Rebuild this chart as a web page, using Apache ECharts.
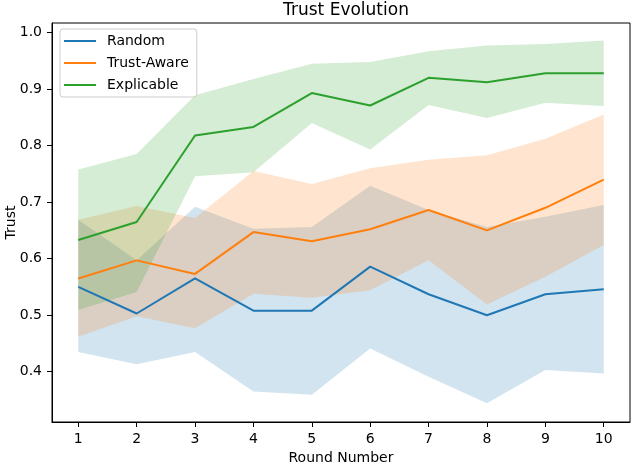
<!DOCTYPE html>
<html>
<head>
<meta charset="utf-8">
<script src="https://cdn.jsdelivr.net/npm/echarts@6/dist/echarts.min.js"></script>
<style>
  html, body { margin: 0; padding: 0; background: #fff; }
  #chart { width: 632px; height: 464px; }
</style>
</head>
<body>
<div id="chart"></div>
<script>
// rounds on the x axis
var rounds = [1, 2, 3, 4, 5, 6, 7, 8, 9, 10];
var xTicks = [1, 2, 3, 4, 5, 6, 7, 8, 9, 10];
var yTicks = [0.4, 0.5, 0.6, 0.7, 0.8, 0.9, 1.0];

// Random
var randomMean = [0.550, 0.503, 0.565, 0.508, 0.508, 0.586, 0.537, 0.500, 0.537, 0.546];
var randomLow  = [0.435, 0.413, 0.435, 0.365, 0.359, 0.441, 0.391, 0.344, 0.403, 0.397];
var randomHigh = [0.669, 0.597, 0.692, 0.653, 0.656, 0.729, 0.686, 0.656, 0.674, 0.695];
// Trust-Aware
var awareMean = [0.565, 0.597, 0.573, 0.647, 0.631, 0.652, 0.686, 0.650, 0.690, 0.740];
var awareLow  = [0.462, 0.498, 0.477, 0.538, 0.531, 0.544, 0.597, 0.519, 0.568, 0.624];
var awareHigh = [0.669, 0.693, 0.672, 0.755, 0.732, 0.760, 0.775, 0.783, 0.812, 0.855];
// Explicable
var explMean = [0.633, 0.665, 0.818, 0.833, 0.893, 0.871, 0.920, 0.912, 0.928, 0.928];
var explLow  = [0.509, 0.541, 0.746, 0.753, 0.840, 0.793, 0.872, 0.849, 0.876, 0.870];
var explHigh = [0.758, 0.785, 0.889, 0.918, 0.945, 0.948, 0.967, 0.977, 0.980, 0.986];

var FONT = 'DejaVu Sans';

function pairs(vals) {
    return rounds.map(function (r, i) { return [r, vals[i]]; });
}
// shaded band between low and high, drawn through the axis scales
function band(low, high, color) {
    return {
        type: 'custom', silent: true, z: 1,
        data: [[rounds[0], low[0]]],
        renderItem: function (params, api) {
            var pts = [];
            for (var i = 0; i < rounds.length; i++)
                pts.push(api.coord([rounds[i], high[i]]));
            for (var j = rounds.length - 1; j >= 0; j--)
                pts.push(api.coord([rounds[j], low[j]]));
            return {
                type: 'polygon',
                shape: { points: pts },
                style: { fill: color, opacity: 0.2 }
            };
        }
    };
}
function meanLine(name, vals, color) {
    return {
        name: name, type: 'line', data: pairs(vals), color: color,
        symbol: 'none', z: 5,
        lineStyle: { color: color, width: 2 }
    };
}

var series = [
    band(randomLow, randomHigh, '#1f77b4'),
    band(awareLow, awareHigh, '#ff7f0e'),
    band(explLow, explHigh, '#2ca02c'),
    meanLine('Random', randomMean, '#1f77b4'),
    meanLine('Trust-Aware', awareMean, '#ff7f0e'),
    meanLine('Explicable', explMean, '#2ca02c')
];

var chart = echarts.init(document.getElementById('chart'), null, { renderer: 'canvas' });
chart.setOption({
    animation: false,
    backgroundColor: '#fff',
    textStyle: { fontFamily: FONT },
    title: {
        text: 'Trust Evolution', left: 341, top: -3, textAlign: 'center',
        textStyle: { fontFamily: FONT, fontSize: 17, fontWeight: 'normal', color: '#000' }
    },
    legend: {
        data: ['Random', 'Trust-Aware', 'Explicable'],
        orient: 'vertical', left: 60, top: 29,
        icon: 'rect', itemWidth: 32, itemHeight: 2, itemGap: 8,
        padding: [5, 8, 5, 4],
        backgroundColor: 'rgba(255,255,255,0.8)',
        borderColor: '#cccccc', borderWidth: 1, borderRadius: 3,
        textStyle: { fontFamily: FONT, fontSize: 14, color: '#000', padding: [0, 0, 0, 6] }
    },
    grid: {
        left: 52, right: 2, top: 23, bottom: 42,
        containLabel: false, outerBoundsMode: 'none',
        show: true, borderColor: '#000', borderWidth: 1
    },
    xAxis: {
        type: 'value', min: 0.55, max: 10.45,
        name: 'Round Number', nameLocation: 'middle', nameGap: 29,
        nameMoveOverlap: false,
        nameTextStyle: { fontFamily: FONT, fontSize: 14, color: '#000' },
        splitLine: { show: false },
        axisLine: { lineStyle: { color: '#000' } },
        axisTick: { show: true, length: 5, customValues: xTicks, lineStyle: { color: '#000' } },
        axisLabel: { customValues: xTicks, fontFamily: FONT, fontSize: 14, color: '#000', margin: 10 }
    },
    yAxis: {
        type: 'value', min: 0.311, max: 1.017,
        name: 'Trust', nameLocation: 'middle', nameGap: 34,
        nameMoveOverlap: false,
        nameTextStyle: { fontFamily: FONT, fontSize: 14, color: '#000' },
        splitLine: { show: false },
        axisLine: { show: true, lineStyle: { color: '#000' } },
        axisTick: { show: true, length: 5, customValues: yTicks, lineStyle: { color: '#000' } },
        axisLabel: {
            customValues: yTicks, fontFamily: FONT, fontSize: 14, color: '#000', margin: 10,
            formatter: function (v) { return v.toFixed(1); }
        }
    },
    series: series
});
</script>
</body>
</html>
